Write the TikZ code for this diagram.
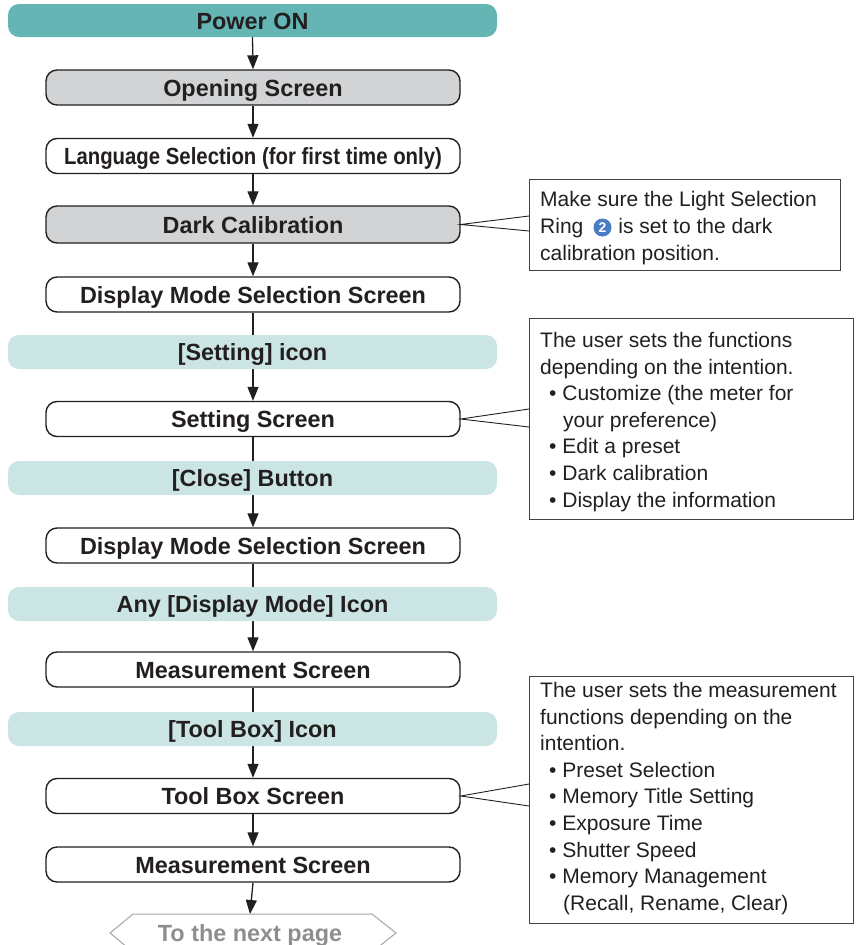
\documentclass[tikz,border=0pt]{standalone}
\usepackage{fontspec}
\setmainfont{Liberation Sans}
\usetikzlibrary{arrows.meta,backgrounds}
\definecolor{teal1}{HTML}{66B5B5}
\definecolor{teal2}{HTML}{CBE5E4}
\definecolor{gray1}{HTML}{D2D3D5}
\definecolor{ink}{HTML}{231F20}
\definecolor{nextgray}{HTML}{8E8E8E}
\definecolor{circblue}{HTML}{4A7CC4}
\tikzset{
  flowbox/.style={draw=ink, line width=1.4pt, rounded corners=11pt, minimum width=414pt, minimum height=35pt,
    text height=17pt, text depth=0pt, inner sep=0pt, font=\fontsize{23.4}{28}\selectfont\bfseries, text=ink},
  graybox/.style={flowbox, fill=gray1},
  whitebox/.style={flowbox, fill=white},
  actbox/.style={fill=teal2, rounded corners=11pt, minimum width=489pt, minimum height=34pt,
    text height=17pt, text depth=0pt, inner sep=0pt, font=\fontsize{23.4}{28}\selectfont\bfseries, text=ink},
  notebox/.style={draw=ink!85, line width=0.9pt, fill=white, inner sep=0pt},
  notetext/.style={anchor=north west, inner sep=0pt, align=left, text=ink, font=\fontsize{21}{26.6}\selectfont},
  numcirc/.style={circle, fill=circblue, inner sep=0pt, minimum size=18pt, text=white, font=\fontsize{14}{14}\selectfont\bfseries},
  flowline/.style={draw=ink, line width=1.3pt},
  flowarrow/.style={flowline, -{Triangle[length=14pt,width=11pt]}},
  pointer/.style={draw=ink, line width=0.9pt},
}
\begin{document}
\begin{tikzpicture}[x=1pt,y=-1pt]
\useasboundingbox (0,0) rectangle (858,945);
% main flow
\node[actbox, fill=teal1, minimum height=33pt] (power) at (252.5,20.5) {Power ON};
\node[graybox] (open) at (253,87.5) {Opening Screen};
\node[whitebox] (lang) at (253,156) {\scalebox{0.87}[1]{Language Selection (for first time only)}};
\node[graybox, minimum height=37pt] (dark) at (253,224.5) {Dark Calibration};
\node[whitebox] (disp1) at (253,294.5) {Display Mode Selection Screen};
\node[actbox] (setic) at (252.5,352) {[Setting] icon};
\node[whitebox] (sets) at (253,419) {Setting Screen};
\node[actbox] (close) at (252.5,478) {[Close] Button};
\node[whitebox] (disp2) at (253,545.5) {Display Mode Selection Screen};
\node[actbox] (anyic) at (252.5,604) {Any [Display Mode] Icon};
\node[whitebox] (meas1) at (253,669.5) {Measurement Screen};
\node[actbox] (toolic) at (252.5,729) {[Tool Box] Icon};
\node[whitebox] (toolbox) at (253,796) {Tool Box Screen};
\node[whitebox] (meas2) at (253,864.5) {Measurement Screen};
\node[text=nextgray, inner sep=0pt, text height=17pt, text depth=0pt, font=\fontsize{23.4}{28}\selectfont\bfseries] (next) at (250,933) {To the next page};
\begin{scope}
\clip (0,0) rectangle (858,945);
\draw[draw=nextgray!80, line width=1pt] (110,933) -- (133,914) -- (372,914) -- (396,933) -- (372,952) -- (133,952) -- cycle;
\end{scope}
% connectors
\begin{scope}[on background layer]
\draw[flowarrow] (power.south) -- (open.north);
\draw[flowarrow] (open.south) -- (lang.north);
\draw[flowarrow] (lang.south) -- (dark.north);
\draw[flowarrow] (dark.south) -- (disp1.north);
\draw[flowarrow] (disp1.south) -- (sets.north);
\draw[flowarrow] (sets.south) -- (disp2.north);
\draw[flowarrow] (disp2.south) -- (meas1.north);
\draw[flowarrow] (meas1.south) -- (toolbox.north);
\draw[flowarrow] (toolbox.south) -- (meas2.north);
\draw[flowarrow] (meas2.south) -- (next.north |- 0,914);
\end{scope}
% callout 1
\node[notebox, minimum width=311pt, minimum height=91pt] (c1) at (684.5,224.5) {};
\node[notetext] (t1) at (540,191.5) {Make sure the Light Selection\\Ring\hspace*{35pt}is set to the dark\\calibration position.};
\node[numcirc] (num2) at (602.5,227.5) {2};
\coordinate (c1a) at (529,216);
\coordinate (c1b) at (529,231);
\draw[pointer] (c1a) -- (dark.east) -- (c1b);
% callout 2
\node[notebox, minimum width=324pt, minimum height=201pt] (c2) at (691,418.5) {};
\node[notetext] (t2) at (540,332) {The user sets the functions\\depending on the intention.\\
\hspace*{9pt}•\ Customize (the meter for\\\hspace*{23pt}your preference)\\
\hspace*{9pt}•\ Edit a preset\\\hspace*{9pt}•\ Dark calibration\\\hspace*{9pt}•\ Display the information};
\coordinate (c2a) at (529,409);
\coordinate (c2b) at (529,427);
\draw[pointer] (c2a) -- (sets.east) -- (c2b);
% callout 3
\node[notebox, minimum width=324pt, minimum height=247pt] (c3) at (691,799.5) {};
\node[notetext] (t3) at (540,682) {The user sets the measurement\\functions depending on the\\intention.\\
\hspace*{9pt}•\ Preset Selection\\\hspace*{9pt}•\ Memory Title Setting\\\hspace*{9pt}•\ Exposure Time\\
\hspace*{9pt}•\ Shutter Speed\\\hspace*{9pt}•\ Memory Management\\\hspace*{23pt}(Recall, Rename, Clear)};
\coordinate (c3a) at (529,784);
\coordinate (c3b) at (529,806);
\draw[pointer] (c3a) -- (toolbox.east) -- (c3b);
\end{tikzpicture}
\end{document}
